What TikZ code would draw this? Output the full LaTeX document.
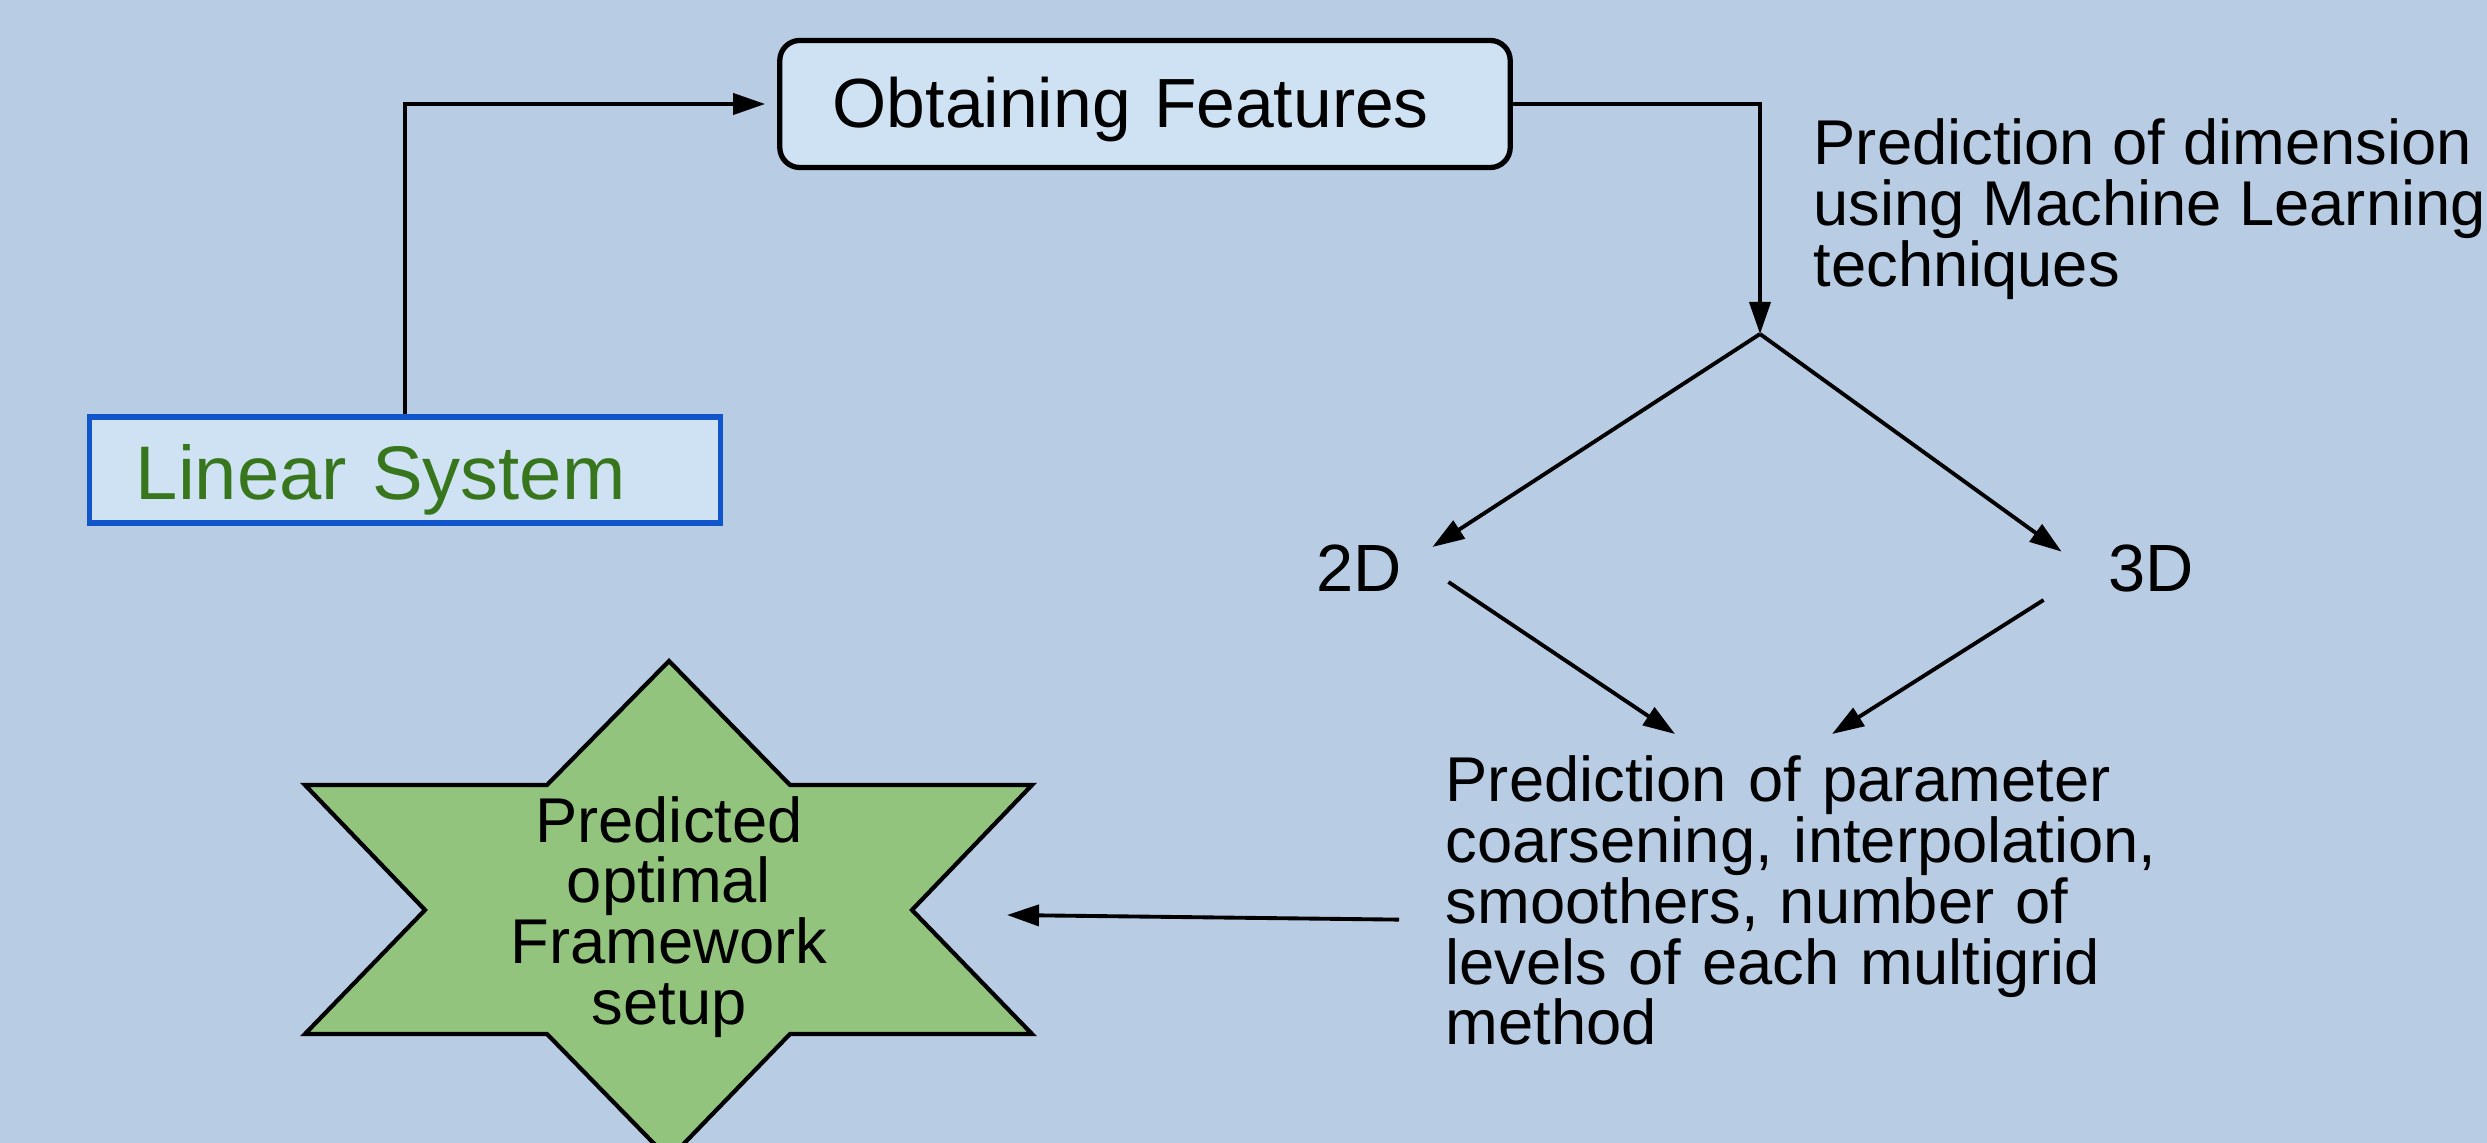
\documentclass[tikz,border=0pt]{standalone}
\usepackage{fontspec}
\setmainfont{Liberation Sans}
\usetikzlibrary{arrows.meta}
\definecolor{bg}{HTML}{B8CCE4}
\definecolor{boxfill}{HTML}{CFE2F3}
\definecolor{boxblue}{HTML}{1155CC}
\definecolor{lsgreen}{HTML}{38761D}
\definecolor{starfill}{HTML}{93C47D}
\tikzset{
  arr/.style={draw=black,line width=1.1pt,-{Triangle[length=0.32cm,width=0.21cm]}},
  lbl/.style={inner sep=0pt,font=\fontsize{18}{17.3}\selectfont,text=black},
  dimlbl/.style={inner sep=0pt,font=\fontsize{19}{23}\selectfont,text=black},
  startshape/.style={draw=black,line width=1.2pt,fill=starfill,line join=miter}
}
\begin{document}
\begin{tikzpicture}[x=0.01cm,y=-0.01cm]
\fill[bg] (0,0) rectangle (2487,1143);
\useasboundingbox (0,0) rectangle (2487,1143);

% boxes
\node[draw=boxblue,line width=1.5pt,fill=boxfill,minimum width=6.3cm,minimum height=1.06cm,
      text width=5.38cm,text height=0.62cm,text depth=0.04cm,inner xsep=0.46cm,inner ysep=0pt,align=left,
      font=\fontsize{21.6}{26}\selectfont,text=lsgreen] (ls) at (405,470) {Linear System};
\node[draw=black,line width=1.5pt,rounded corners=0.2cm,fill=boxfill,minimum width=7.3cm,minimum height=1.27cm,
      text width=6.24cm,text height=0.52cm,text depth=0.05cm,inner xsep=0.53cm,inner ysep=0pt,align=left,
      font=\fontsize{19.8}{24}\selectfont] (of) at (1145,104) {Obtaining Features};

% texts
\node[lbl,anchor=west,align=left] (dim) at (1813,209) {Prediction of dimension\\using Machine Learning\\techniques};
\node[dimlbl] (d2) at (1359,568) {2D};
\node[dimlbl] (d3) at (2151,568) {3D};
\node[lbl,anchor=north west,text width=7.4cm,align=left] (param) at (1445,755)
  {Prediction of parameter\\coarsening, interpolation,\\smoothers, number of\\levels of each multigrid\\method};

% star
\draw[startshape] (669,661) -- (790,785) -- (1032,785) -- (912,910) -- (1032,1034) -- (790,1034)
  -- (669,1159) -- (547,1034) -- (305,1034) -- (425,910) -- (305,785) -- (547,785) -- cycle;
\node[lbl,align=center] (star) at (669,917) {Predicted\\optimal\\Framework\\setup};

% connectors
\coordinate (split) at (1760,334);
\draw[arr] (ls.north) |- ([xshift=-0.12cm]of.west);
\draw[arr] (of.east) -| (split);
\draw[arr] (split) -- ([shift={(30,3)}]d2.north east);
\draw[arr] (split) -- ([shift={(-46,8)}]d3.north west);
\draw[arr] ([shift={(46,14)}]d2.east) -- ([shift={(230,-21)}]param.north west);
\draw[arr] ([shift={(-64,32)}]d3.west) -- ([shift={(387,-21)}]param.north west);
\draw[arr] ([shift={(-46,19)}]param.west) -- ([shift={(338,-2)}]star.center);
\end{tikzpicture}
\end{document}
